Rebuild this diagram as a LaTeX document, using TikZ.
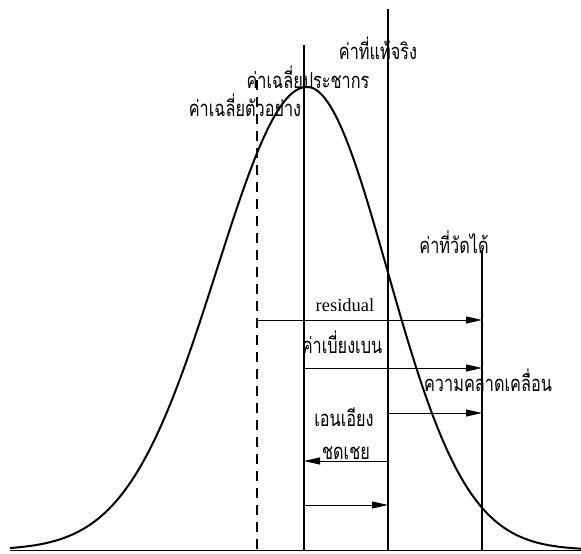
\documentclass[tikz,border=0pt]{standalone}
\usepackage{fontspec}
\usepackage{graphicx}
\setmainfont{Liberation Serif}
\newfontfamily\thaifont[Script=Thai]{Loma}
\usetikzlibrary{arrows.meta}
\newcommand\thtxt[1]{\scalebox{0.74}[1]{#1}}
\tikzset{
  thai/.style={inner sep=0pt, font=\thaifont\fontsize{22}{24}\selectfont},
  vline/.style={line width=1.1pt},
  dline/.style={line width=1.3pt, dash pattern=on 10pt off 7pt},
  arr/.style={line width=0.9pt, -{Triangle[length=16pt,width=7pt]}},
  curve/.style={line width=2pt},
}
\begin{document}
\begin{tikzpicture}[x=1pt,y=-1pt]
\useasboundingbox (0,0) rectangle (581,554);
% baseline
\coordinate (bl) at (10,550);
\coordinate (br) at (581,550);
\draw[line width=0.8pt] (bl) -- (br);
% vertical lines
\coordinate (sTop) at (257,80);  \coordinate (sBot) at (257,550);
\coordinate (pTop) at (304,45);  \coordinate (pBot) at (304,550);
\coordinate (tTop) at (388,9);   \coordinate (tBot) at (388,550);
\coordinate (mTop) at (482,250); \coordinate (mBot) at (482,550);
\draw[dline] (sTop) -- (sBot);
\draw[vline] (pTop) -- (pBot);
\draw[vline] (tTop) -- (tBot);
\draw[vline] (mTop) -- (mBot);
% curve
\draw[curve] plot[domain=10:307, samples=120] (\x, {550-463*exp(-0.5*((\x-307)/90)^2)})
  -- plot[domain=307:581, samples=120] (\x, {550-463*exp(-0.5*((\x-307)/80)^2)});
% labels
\node[thai] (lt) at (378,48) {\thtxt{ค่าที่แท้จริง}};
\node[thai] (lp) at (308,77) {\thtxt{ค่าเฉลี่ยประชากร}};
\node[thai] (ls) at (245,105) {\thtxt{ค่าเฉลี่ยตัวอย่าง}};
\node[thai] (lm) at (454,242) {\thtxt{ค่าที่วัดได้}};
\node[inner sep=0pt, font=\fontsize{18.5}{20}\selectfont] (lr) at (345,305) {residual};
\node[thai] (ld) at (342,342) {\thtxt{ค่าเบี่ยงเบน}};
\node[thai] (le) at (488,380) {\thtxt{ความคลาดเคลื่อน}};
\node[thai] (lb) at (344,417) {\thtxt{เอนเอียง}};
\node[thai] (lc) at (346,453) {\thtxt{ชดเชย}};
% arrows
\coordinate (a1s) at (257,320); \coordinate (a1e) at (482,320);
\coordinate (a2s) at (304,368); \coordinate (a2e) at (482,368);
\coordinate (a3s) at (388,413); \coordinate (a3e) at (482,413);
\coordinate (a4s) at (388,461); \coordinate (a4e) at (304,461);
\coordinate (a5s) at (304,505); \coordinate (a5e) at (388,505);
\draw[arr] (a1s) -- (a1e);
\draw[arr] (a2s) -- (a2e);
\draw[arr] (a3s) -- (a3e);
\draw[arr] (a4s) -- (a4e);
\draw[arr] (a5s) -- (a5e);
\end{tikzpicture}
\end{document}
